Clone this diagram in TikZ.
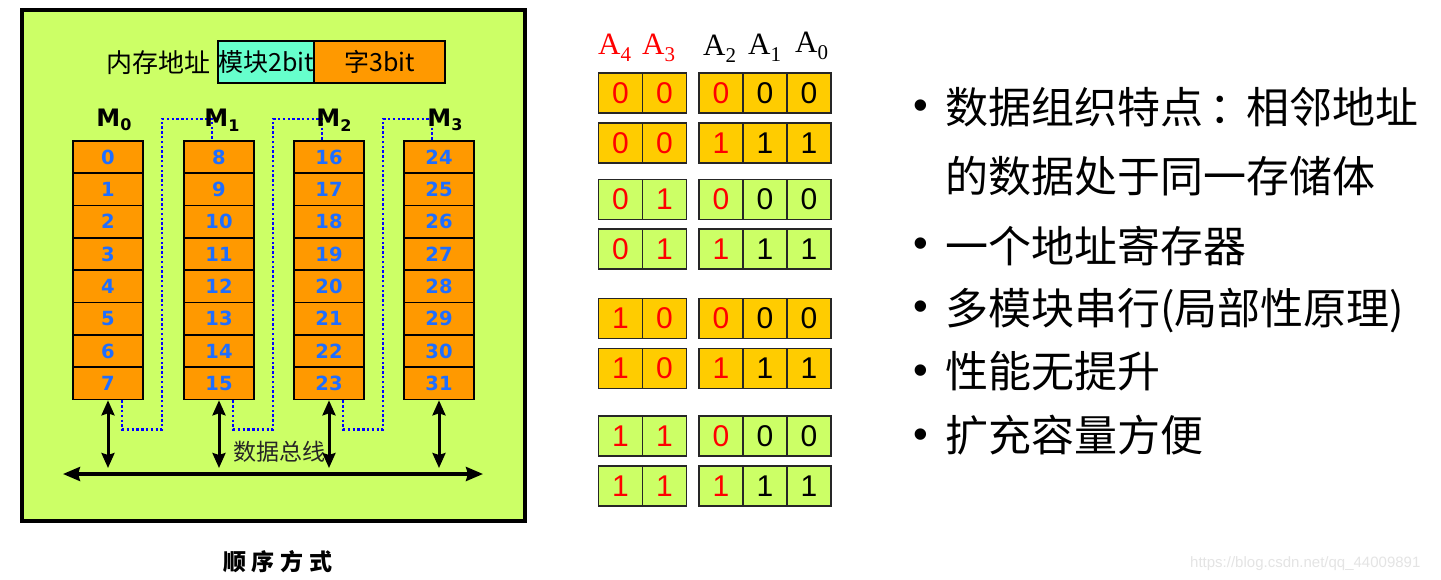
\documentclass[tikz,border=0pt]{standalone}
\usepackage{fontspec}
\setmainfont{Liberation Serif}
\newfontfamily\cjk{Noto Sans CJK SC}
\newfontfamily\dv{DejaVu Sans}
\newfontfamily\lsans{Liberation Sans}
\usetikzlibrary{arrows.meta,calc}
\definecolor{bgGreen}{HTML}{CCFF66}
\definecolor{cellOrange}{HTML}{FF9900}
\definecolor{numBlue}{HTML}{1E6EFF}
\definecolor{modCyan}{HTML}{66FFCC}
\definecolor{midOrange}{HTML}{FFCC00}
\definecolor{bitRed}{HTML}{FF0000}
\definecolor{wmGray}{HTML}{E4E4E4}
\begin{document}
\begin{tikzpicture}[x=1pt,y=-1pt,
  cellL/.style={draw=black, line width=1.8pt, fill=cellOrange, minimum width=70pt, minimum height=32.3pt, inner sep=0pt, text=numBlue, font=\dv\bfseries\fontsize{19.5}{19.5}\selectfont},
  mlab/.style={font=\dv\bfseries\fontsize{24}{24}\selectfont, inner sep=0pt},
  dotline/.style={draw=blue, line width=2.4pt, dash pattern=on 2.4pt off 2.4pt},
  varrow/.style={line width=3pt, {Stealth[length=15pt,width=13pt,inset=2pt]}-{Stealth[length=15pt,width=13pt,inset=2pt]}},
  harrow/.style={line width=3.5pt, {Stealth[length=17pt,width=14pt,inset=2pt]}-{Stealth[length=17pt,width=14pt,inset=2pt]}},
  addrbox/.style={draw=black, line width=2.5pt, minimum height=42pt, inner sep=0pt, font=\cjk\fontsize{25}{25}\selectfont},
  bitcell/.style={draw=black!85, line width=1.5pt, minimum width=44pt, minimum height=40pt, inner sep=0pt, font=\lsans\fontsize{30}{30}\selectfont},
  hdr/.style={anchor=base west, inner sep=0pt, font=\fontsize{31}{31}\selectfont},
  bul/.style={anchor=base, inner sep=0pt, font=\lsans\fontsize{42}{42}\selectfont},
  btxt/.style={anchor=base west, inner sep=0pt, font=\cjk\fontsize{43}{43}\selectfont}
]
\useasboundingbox (0,0) rectangle (1441,580);
\fill[white] (0,0) rectangle (1441,580);

% outer frame
\node[draw=black, line width=3.5pt, fill=bgGreen, minimum width=503pt, minimum height=511pt, inner sep=0pt] (frame) at (273.5,265.5) {};

% address format
\node[inner sep=0pt, font=\cjk\fontsize{26}{26}\selectfont] (addr) at (158,63) {内存地址};
\node[addrbox, fill=modCyan, minimum width=96pt] (mod) at (266,62) {模块2bit};
\node[addrbox, fill=cellOrange, minimum width=131pt] (word) at (379.5,62) {字3bit};

% memory modules
\foreach \k/\cx in {0/108,1/219,2/329,3/439}{
  \foreach \i in {0,...,7}{
    \pgfmathtruncatemacro\n{\k*8+\i}
    \node[cellL] (c\n) at (\cx,{157.15+32.3*\i}) {\n};
  }
}

% dotted sequence connectors
\foreach \a/\b in {7/8,15/16,23/24}{
  \coordinate (p\a) at ($(c\a.south west)+(50,0)$);
  \coordinate (q\b) at ($(c\b.north west)+(29,0)$);
  \draw[dotline] (p\a) -- ++(0,29) -- ++(40,0) |- ($(q\b)+(0,-21)$) -- (q\b);
}

% module labels
\node[mlab] (m0) at (114,120) {M\raisebox{-0.35ex}{\fontsize{16}{16}\selectfont 0}};
\node[mlab] (m1) at (222,120) {M\raisebox{-0.35ex}{\fontsize{16}{16}\selectfont 1}};
\node[mlab] (m2) at (334,120) {M\raisebox{-0.35ex}{\fontsize{16}{16}\selectfont 2}};
\node[mlab] (m3) at (445,120) {M\raisebox{-0.35ex}{\fontsize{16}{16}\selectfont 3}};

% data bus
\coordinate (busL) at (63,474);
\coordinate (busR) at (483,474);
\coordinate (busTop) at (0,468);
\draw[harrow] (busL) -- (busR);
\foreach \n in {7,15,23,31}{
  \draw[varrow] (c\n.south) -- (c\n.south |- busTop);
}
\node[inner sep=0pt, font=\cjk\fontsize{23}{23}\selectfont, text=black!85] (bus) at (279,452) {数据总线};

% caption
\node[inner sep=0pt, font=\cjk\bfseries\fontsize{23}{23}\selectfont] (cap) at (278,562) {顺\hspace{6pt}序\hspace{6pt}方\hspace{6pt}式};

% address bit headers
\node[hdr, text=bitRed] (h4) at (598,55) {A\raisebox{-0.22em}{\fontsize{21}{21}\selectfont 4}};
\node[hdr, text=bitRed] (h3) at (642,55) {A\raisebox{-0.22em}{\fontsize{21}{21}\selectfont 3}};
\node[hdr] (h2) at (703,56) {A\raisebox{-0.22em}{\fontsize{21}{21}\selectfont 2}};
\node[hdr] (h1) at (748,55) {A\raisebox{-0.22em}{\fontsize{21}{21}\selectfont 1}};
\node[hdr] (h0) at (795,53) {A\raisebox{-0.22em}{\fontsize{21}{21}\selectfont 0}};

% address bit table
\foreach \r/\yc/\col/\ba/\bb/\bc/\bd/\be in {
  1/93/midOrange/0/0/0/0/0,
  2/143/midOrange/0/0/1/1/1,
  3/199.5/bgGreen/0/1/0/0/0,
  4/249/bgGreen/0/1/1/1/1,
  5/318.5/midOrange/1/0/0/0/0,
  6/368.5/midOrange/1/0/1/1/1,
  7/436/bgGreen/1/1/0/0/0,
  8/486/bgGreen/1/1/1/1/1}{
  \node[bitcell, fill=\col, text=bitRed] (r\r a) at (620.5,\yc) {\ba};
  \node[bitcell, fill=\col, text=bitRed] (r\r b) at (664.5,\yc) {\bb};
  \node[bitcell, fill=\col, text=bitRed] (r\r c) at (721,\yc) {\bc};
  \node[bitcell, fill=\col] (r\r d) at (765,\yc) {\bd};
  \node[bitcell, fill=\col] (r\r e) at (809,\yc) {\be};
}

% bullet list
\node[bul] (b1) at (921,120) {•};
\node[btxt] (t1) at (945,124) {数据组织特点\hspace{0.15em}：\hspace{-0.15em}相邻地址};
\node[btxt] (t2) at (945,193) {的数据处于同一存储体};
\node[bul] (b3) at (921,258) {•};
\node[btxt] (t3) at (945,262) {一个地址寄存器};
\node[bul] (b4) at (921,320) {•};
\node[btxt] (t4) at (945,324) {多模块串行(局部性原理)};
\node[bul] (b5) at (921,384) {•};
\node[btxt] (t5) at (945,387) {性能无提升};
\node[bul] (b6) at (921,448) {•};
\node[btxt] (t6) at (945,451) {扩充容量方便};

% watermark
\node[anchor=base west, inner sep=0pt, text=wmGray, font=\lsans\fontsize{15}{15}\selectfont] (wm) at (1190,567) {https://blog.csdn.net/qq\_44009891};
\end{tikzpicture}
\end{document}
